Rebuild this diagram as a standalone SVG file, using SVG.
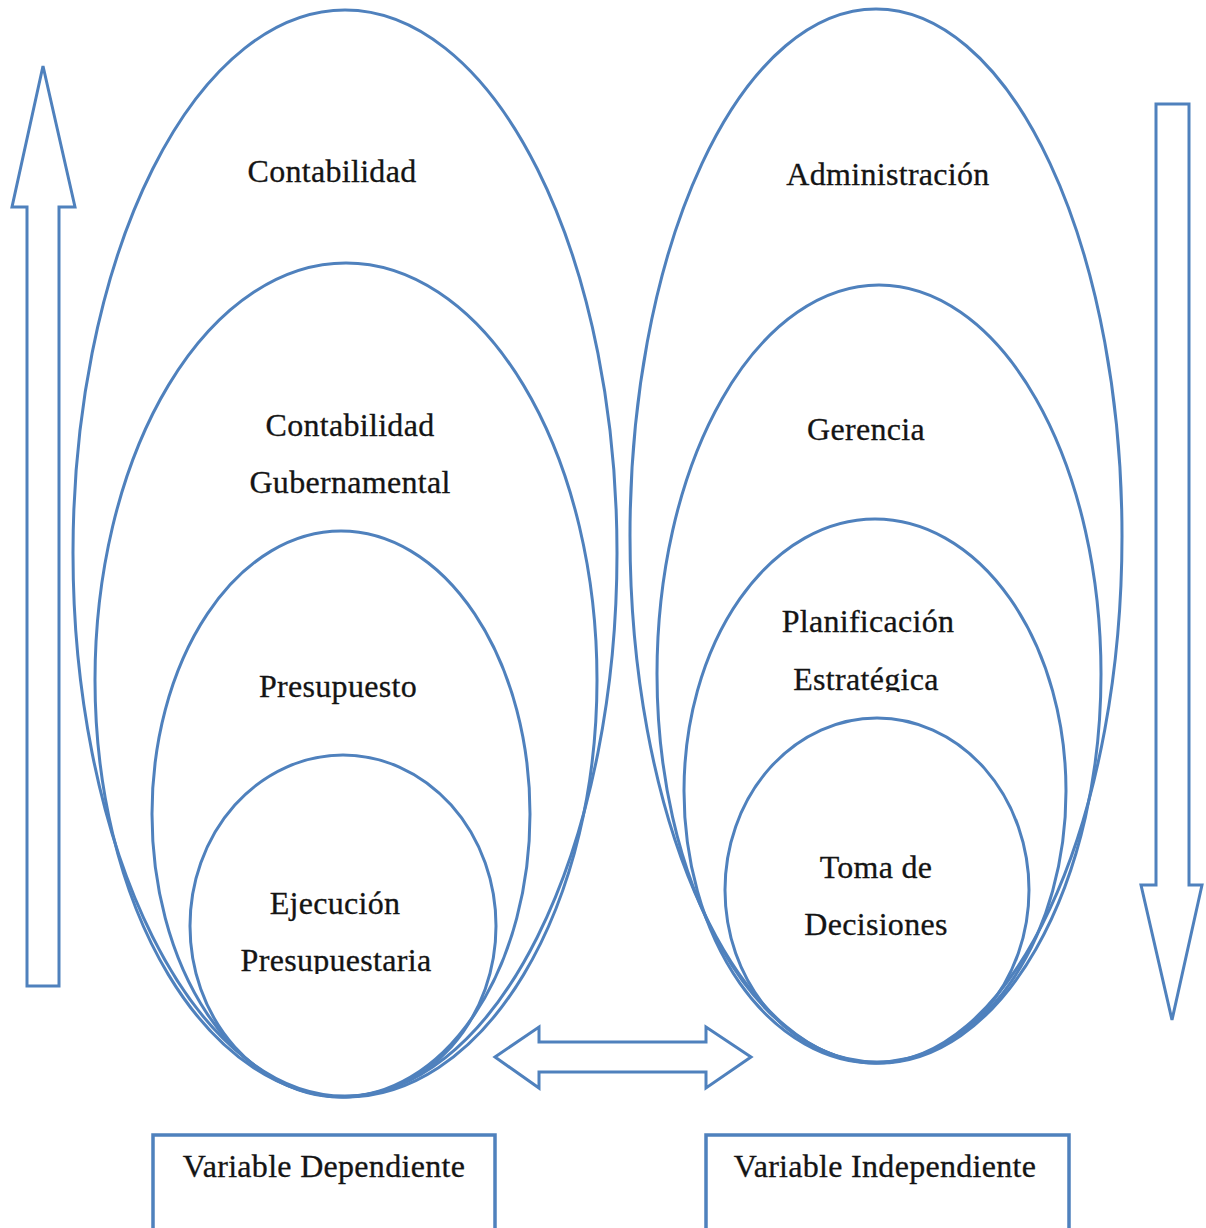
<svg xmlns="http://www.w3.org/2000/svg" width="1206" height="1228" viewBox="0 0 1206 1228">
  <style>
    .shape { fill: none; stroke: #4f81bd; stroke-width: 3; stroke-linejoin: miter; }
    .box { fill: #ffffff; stroke: #4f81bd; stroke-width: 3.5; }
    .lbl { font-family: "Liberation Serif", "Times New Roman", serif; font-size: 32px; fill: #141414; text-anchor: middle; letter-spacing: 0.3px; stroke: #141414; stroke-width: 0.3; }
  </style>
  <defs>
    <clipPath id="clip-ejecucion"><rect x="150" y="850" width="400" height="124"/></clipPath>
    <clipPath id="clip-planificacion"><rect x="700" y="580" width="360" height="112"/></clipPath>
  </defs>

  <rect x="0" y="0" width="1206" height="1228" fill="#ffffff"/>

  <!-- Left stack: accounting hierarchy -->
  <g id="contabilidad">
    <ellipse class="shape" cx="345" cy="553" rx="272" ry="543"/>
    <text class="lbl" x="332" y="182">Contabilidad</text>
  </g>
  <g id="contabilidad-gubernamental">
    <ellipse class="shape" cx="346" cy="680" rx="251" ry="417"/>
    <text class="lbl" x="350" y="436">Contabilidad</text>
    <text class="lbl" x="350" y="493">Gubernamental</text>
  </g>
  <g id="presupuesto">
    <ellipse class="shape" cx="341" cy="814" rx="189" ry="283"/>
    <text class="lbl" x="338" y="697">Presupuesto</text>
  </g>
  <g id="ejecucion-presupuestaria">
    <ellipse class="shape" cx="343" cy="926" rx="153" ry="171"/>
    <g clip-path="url(#clip-ejecucion)">
      <text class="lbl" x="335" y="914">Ejecución</text>
      <text class="lbl" x="336" y="971">Presupuestaria</text>
    </g>
  </g>

  <!-- Right stack: management hierarchy -->
  <g id="administracion">
    <ellipse class="shape" cx="876" cy="536" rx="246" ry="527"/>
    <text class="lbl" x="888" y="185">Administración</text>
  </g>
  <g id="gerencia">
    <ellipse class="shape" cx="879" cy="674" rx="222" ry="389"/>
    <text class="lbl" x="866" y="440">Gerencia</text>
  </g>
  <g id="planificacion-estrategica">
    <ellipse class="shape" cx="875" cy="791" rx="191" ry="272"/>
    <g clip-path="url(#clip-planificacion)">
      <text class="lbl" x="868" y="632">Planificación</text>
      <text class="lbl" x="866" y="690">Estratégica</text>
    </g>
  </g>
  <g id="toma-de-decisiones">
    <ellipse class="shape" cx="877" cy="890" rx="152" ry="172"/>
    <text class="lbl" x="876" y="878">Toma de</text>
    <text class="lbl" x="876" y="935">Decisiones</text>
  </g>

  <!-- Variable labels -->
  <g id="variable-dependiente">
    <rect class="box" x="153" y="1135" width="342" height="120"/>
    <text class="lbl" x="324" y="1177">Variable Dependiente</text>
  </g>
  <g id="variable-independiente">
    <rect class="box" x="706" y="1135" width="363" height="120"/>
    <text class="lbl" x="885" y="1177">Variable Independiente</text>
  </g>

  <!-- Block arrows -->
  <g id="connectors">
    <polygon id="arrow-up" class="shape" points="43,66 75,207 59,207 59,986 27,986 27,207 12,207"/>
    <polygon id="arrow-down" class="shape" points="1156,104 1189,104 1189,885 1202,885 1172,1020 1141,885 1156,885"/>
    <polygon id="arrow-both" class="shape" points="495,1057 539,1027 539,1042 706,1042 706,1027 751,1057 706,1088 706,1072 539,1072 539,1088"/>
  </g>
</svg>
